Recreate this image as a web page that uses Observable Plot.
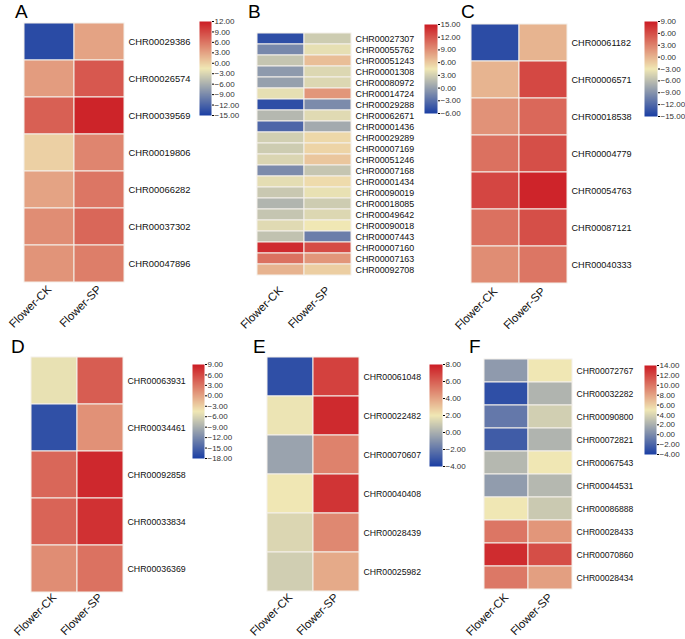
<!DOCTYPE html>
<html>
<head>
<meta charset="utf-8">
<script src="https://cdn.jsdelivr.net/npm/d3@7"></script>
<script src="https://cdn.jsdelivr.net/npm/@observablehq/plot@0.6"></script>
<style>
  html, body { margin: 0; padding: 0; background: #fff; }
  #root { position: relative; width: 685px; height: 639px; overflow: hidden; font-family: "Liberation Sans", Arial, sans-serif; color: #000; }
  .letter { position: absolute; font-size: 19px; line-height: 19px; font-family: "Liberation Sans", Arial, sans-serif; }
  .abs { position: absolute; }
</style>
</head>
<body>
<div id="root"></div>
<script>
const samples = ["Flower-CK", "Flower-SP"];

// Panel A
const genesA = ["CHR00029386","CHR00026574","CHR00039569","CHR00019806","CHR00066282","CHR00037302","CHR00047896"];
const ckA = [-14, 3.5, 7.5, 0, 3, 4.5, 4];
const spA = [3, 8, 11.5, 5, 6, 7, 5.5];
const domainA = [-15, 12];
const ticksA = [12, 9, 6, 3, 0, -3, -6, -9, -12, -15];

// Panel B
const genesB = ["CHR00027307","CHR00055762","CHR00051243","CHR00001308","CHR00080972","CHR00014724","CHR00029288","CHR00062671","CHR00001436","CHR00029289","CHR00007169","CHR00051246","CHR00007168","CHR00001434","CHR00090019","CHR00018085","CHR00049642","CHR00090018","CHR00007443","CHR00007160","CHR00007163","CHR00092708"];
const ckB = [-5, -1.4, 2.4, -0.3, 0.1, 4, -5, 1.6, -3.5, 3, 2.8, 3.4, -1.2, 3.9, 2.6, 1.4, 2.4, 3.7, 2.2, 14.2, 10.6, 7.2];
const spB = [2.8, 4, 6.6, 3.5, 3.5, 8.7, -1.2, 3.7, 0.7, 5.3, 5.5, 6.2, 2.4, 5.1, 4.1, 2.8, 3.5, 4.5, -2, 12.5, 8.7, 5.8];
const domainB = [-6, 15];
const ticksB = [15, 12, 9, 6, 3, 0, -3, -6];

// Panel C
const genesC = ["CHR00061182","CHR00006571","CHR00018538","CHR00004779","CHR00054763","CHR00087121","CHR00040333"];
const ckC = [-14, 0, 2, 4, 6.5, 4, 2.3];
const spC = [0, 6.4, 4.5, 6, 8.5, 6, 3.7];
const domainC = [-15, 9];
const ticksC = [9, 6, 3, 0, -3, -6, -9, -12, -15];

// Panel D
const genesD = ["CHR00063931","CHR00034461","CHR00092858","CHR00033834","CHR00036369"];
const ckD = [-5, -16.6, 4, 4.2, 1.5];
const spD = [4.7, 1.2, 8.2, 7.6, 3.3];
const domainD = [-18, 9];
const ticksD = [9, 6, 3, 0, -3, -6, -9, -12, -15, -18];

// Panel E
const genesE = ["CHR00061048","CHR00022482","CHR00070607","CHR00040408","CHR00028439","CHR00025982"];
const ckE = [-3.4, 1.9, -0.4, 2, 1.4, 1.1];
const spE = [6.9, 7.6, 5, 7.3, 4.8, 3.8];
const domainE = [-4, 8];
const ticksE = [8, 6, 4, 2, 0, -2, -4];

// Panel F
const genesF = ["CHR00072767","CHR00032282","CHR00090800","CHR00072821","CHR00067543","CHR00044531","CHR00086888","CHR00028433","CHR00070860","CHR00028434"];
const ckF = [0.9, -3.1, -0.9, -2.4, 2.5, 1, 5, 10, 13.3, 9.9];
const spF = [5, 2.3, 3.7, 2.3, 5, 2.5, 3.4, 8.6, 11.8, 8.2];
const domainF = [-4, 14];
const ticksF = [14, 12, 10, 8, 6, 4, 2, 0, -2, -4];

const lowColor = "#1a3ea4", midColor = "#f0e7b4", highColor = "#cc1c24";

const panels = [
  {letter: "A", genes: genesA, ck: ckA, sp: spA, domain: domainA, ticks: ticksA,
   hx: [23, 124], hy: [20, 284], cx: [199, 211], cy: [21, 115], lx: 15, ly: 2, rowFont: 9.4},
  {letter: "B", genes: genesB, ck: ckB, sp: spB, domain: domainB, ticks: ticksB,
   hx: [256, 351], hy: [22, 285], cx: [424, 437], cy: [24, 113], lx: 248, ly: 2, rowFont: 8.9},
  {letter: "C", genes: genesC, ck: ckC, sp: spC, domain: domainC, ticks: ticksC,
   hx: [471, 567], hy: [21, 286], cx: [644, 657], cy: [21, 116], lx: 461, ly: 2, rowFont: 9.1},
  {letter: "D", genes: genesD, ck: ckD, sp: spD, domain: domainD, ticks: ticksD,
   hx: [30, 123], hy: [356, 592], cx: [192, 204], cy: [364, 458], lx: 11, ly: 337, rowFont: 8.8},
  {letter: "E", genes: genesE, ck: ckE, sp: spE, domain: domainE, ticks: ticksE,
   hx: [267, 359], hy: [356, 592], cx: [429, 442], cy: [364, 466], lx: 253, ly: 337, rowFont: 8.7},
  {letter: "F", genes: genesF, ck: ckF, sp: spF, domain: domainF, ticks: ticksF,
   hx: [483, 572], hy: [356, 592], cx: [644, 656], cy: [365, 454], lx: 469, ly: 337, rowFont: 8.6}
];

const root = document.getElementById("root");

function colorOpts(domain) {
  const mid = (domain[0] + domain[1]) / 2;
  return {type: "linear", domain: [domain[0], mid, domain[1]], range: [lowColor, midColor, highColor], interpolate: "rgb", clamp: true};
}

const fontFam = "'Liberation Sans', Arial, sans-serif";

for (const p of panels) {
  const rows = [];
  p.genes.forEach((g, i) => {
    rows.push({sample: samples[0], gene: g, value: p.ck[i]});
    rows.push({sample: samples[1], gene: g, value: p.sp[i]});
  });
  const ml = 30, mt = 2, mr = 80, mb = 70;
  const w = p.hx[1] - p.hx[0], h = p.hy[1] - p.hy[0];
  const heat = Plot.plot({
    width: w + ml + mr,
    height: h + mt + mb,
    marginLeft: ml, marginRight: mr, marginTop: mt, marginBottom: mb,
    style: {fontFamily: fontFam, color: "#000", background: "transparent", overflow: "visible"},
    x: {domain: samples, padding: 0, label: null},
    y: {domain: p.genes, padding: 0, label: null},
    color: colorOpts(p.domain),
    marks: [
      Plot.cell(rows, {x: "sample", y: "gene", fill: "value", stroke: "#f4f0ea", strokeWidth: 1, inset: 0}),
      Plot.axisY({anchor: "right", tickSize: 0, tickPadding: 4, fontSize: p.rowFont, fill: "#111", label: null}),
      Plot.axisX({anchor: "bottom", tickSize: 0, tickPadding: 3, tickRotate: -45, fontSize: 11.5, fill: "#111", label: null})
    ]
  });
  heat.classList.add("abs");
  heat.style.left = (p.hx[0] - ml) + "px";
  heat.style.top = (p.hy[0] - mt) + "px";
  root.appendChild(heat);

  // colour bar as a raster over the value range
  const bw = p.cx[1] - p.cx[0], bh = p.cy[1] - p.cy[0];
  const bml = 2, bmr = 40, bmt = 8, bmb = 8;
  const bar = Plot.plot({
    width: bw + bml + bmr,
    height: bh + bmt + bmb,
    marginLeft: bml, marginRight: bmr, marginTop: bmt, marginBottom: bmb,
    style: {fontFamily: fontFam, color: "#000", background: "transparent", overflow: "visible"},
    x: {domain: [0, 1], axis: null},
    y: {domain: p.domain, label: null},
    color: colorOpts(p.domain),
    marks: [
      Plot.raster({x1: 0, x2: 1, y1: p.domain[0], y2: p.domain[1], width: 2, height: bh * 2, fill: (x, y) => y, imageRendering: "auto"}),
      Plot.axisY({anchor: "right", ticks: p.ticks, tickFormat: d3.format(".2f"), tickSize: 2, tickPadding: 1, fontSize: 8, fill: "#333", label: null})
    ]
  });
  bar.classList.add("abs");
  bar.style.left = (p.cx[0] - bml) + "px";
  bar.style.top = (p.cy[0] - bmt) + "px";
  root.appendChild(bar);

  const L = document.createElement("div");
  L.className = "letter";
  L.textContent = p.letter;
  L.style.left = p.lx + "px";
  L.style.top = p.ly + "px";
  root.appendChild(L);
}
</script>
</body>
</html>
